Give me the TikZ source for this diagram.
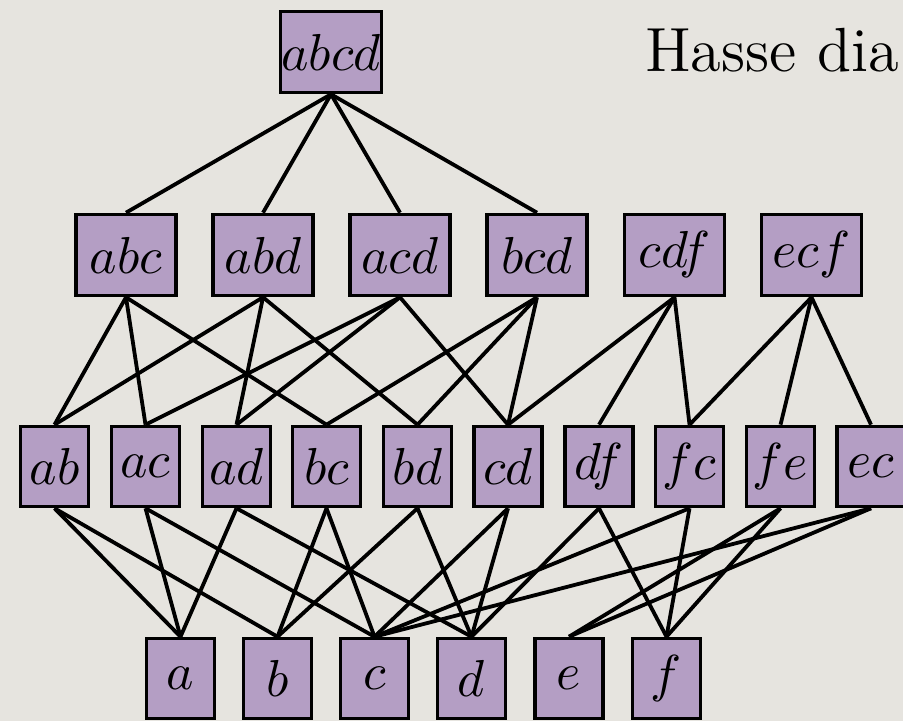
\documentclass[tikz,border=0pt]{standalone}
\usepackage{tikz}
\definecolor{bgcol}{RGB}{230,228,223}
\definecolor{boxfill}{RGB}{180,158,196}
\newcommand\pxu{0.19231pt}
\tikzset{
  hbox/.style={draw=black, fill=boxfill, line width=3.6*\pxu, rectangle, inner sep=0pt, anchor=center},
  toprow/.style={hbox, minimum width=101*\pxu, minimum height=81*\pxu},
  secrow/.style={hbox, minimum width=100*\pxu, minimum height=81*\pxu},
  thirdrow/.style={hbox, minimum width=68*\pxu, minimum height=80*\pxu},
  botrow/.style={hbox, minimum width=68*\pxu, minimum height=80*\pxu},
  hedge/.style={draw=black, line width=3.8*\pxu},
}
\begin{document}
\begin{tikzpicture}[x=0.19231pt, y=-0.19231pt]
\useasboundingbox (0,0) rectangle (903,721);
\clip (0,0) rectangle (903,721);
\fill[bgcol] (0,0) rectangle (903,721);

% title
\node[anchor=base west, inner sep=0pt] (title) at (644,72) {\large Hasse dia};

% top
\node[toprow] (abcd) at (331,52) {$abcd$};

% row 2
\node[secrow] (abc) at (126,255) {$abc$};
\node[secrow] (abd) at (263,255) {$abd$};
\node[secrow] (acd) at (400,255) {$acd$};
\node[secrow] (bcd) at (537,255) {$bcd$};
\node[secrow] (cdf) at (674.5,255) {$cdf$};
\node[secrow] (ecf) at (811.5,255) {$ecf$};

% row 3
\node[thirdrow] (ab) at (54.5,466.5) {$ab$};
\node[thirdrow] (ac) at (145.5,466.5) {$ac$};
\node[thirdrow] (ad) at (236.5,466.5) {$ad$};
\node[thirdrow] (bc) at (326.5,466.5) {$bc$};
\node[thirdrow] (bd) at (417.5,466.5) {$bd$};
\node[thirdrow] (cd) at (508,466.5) {$cd$};
\node[thirdrow] (df) at (599,466.5) {$df$};
\node[thirdrow] (fc) at (689.5,466.5) {$fc$};
\node[thirdrow] (fe) at (780.5,466.5) {$fe$};
\node[thirdrow] (ec) at (871,466.5) {$ec$};

% row 4
\node[botrow] (a) at (180.5,678.5) {$a$};
\node[botrow] (b) at (277.5,678.5) {$b$};
\node[botrow] (c) at (374.5,678.5) {$c$};
\node[botrow] (d) at (471.5,678.5) {$d$};
\node[botrow] (e) at (569,678.5) {$e$};
\node[botrow] (f) at (666.5,678.5) {$f$};

% edges top -> row 2
\foreach \t in {abc,abd,acd,bcd} \draw[hedge] (abcd.south) -- (\t.north);

% edges row 2 -> row 3
\foreach \s/\t in {abc/ab,abc/ac,abc/bc,abd/ab,abd/ad,abd/bd,acd/ac,acd/ad,acd/cd,bcd/bc,bcd/bd,bcd/cd,cdf/cd,cdf/df,cdf/fc,ecf/fc,ecf/fe,ecf/ec}
  \draw[hedge] (\s.south) -- (\t.north);

% edges row 3 -> row 4
\foreach \s/\t in {ab/a,ab/b,ac/a,ac/c,ad/a,ad/d,bc/b,bc/c,bd/b,bd/d,cd/c,cd/d,df/d,df/f,fc/c,fc/f,fe/e,fe/f,ec/c,ec/e}
  \draw[hedge] (\s.south) -- (\t.north);
\end{tikzpicture}
\end{document}
